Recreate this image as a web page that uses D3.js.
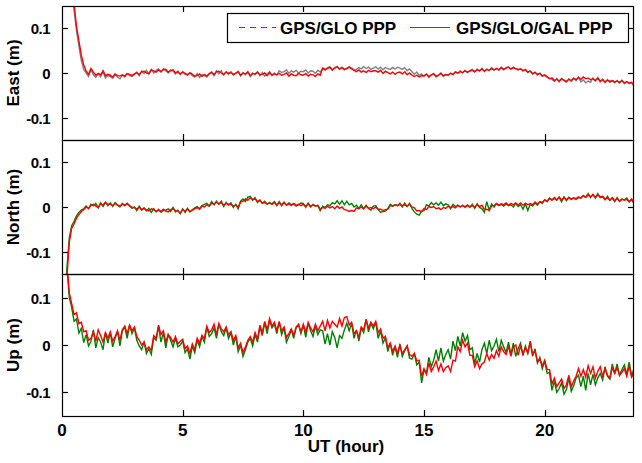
<!DOCTYPE html>
<html><head><meta charset="utf-8">
<script src="https://cdn.jsdelivr.net/npm/d3@7"></script>
<style>
body{margin:0;background:#fff}
svg{display:block}
text{font-family:"Liberation Sans",Arial,Helvetica,sans-serif;font-weight:bold;fill:#000}
</style></head><body>
<svg id="chart" width="642" height="463"></svg>
<script>
// ---- data (values in millimetres, one sample every 0.1 hour from 0 h) ----
const timeStep = 0.1;            // hours between samples
const xTicks = [0, 5, 10, 15, 20];
const xTickLabels = ["0", "5", "10", "15", "20"];
const yTicks = [-0.1, 0, 0.1];
const yTickLabels = ["-0.1", "0", "0.1"];
const panelTitles = ["East (m)", "North (m)", "Up (m)"];
const seriesNames = ["GPS/GLO PPP", "GPS/GLO/GAL PPP"];
const xTitle = "UT (hour)";

const eastGlo = [
390,330,280,230,180,140,95,60,28,8,
0,-8,7,-4,-10,-2,-9,3,-11,-6,
-8,-12,-4,-9,-13,-5,-9,-2,-6,-8,
-4,2,-6,4,-1,6,-3,8,0,6,
9,2,8,5,0,7,5,-2,4,-4,
3,-3,-5,0,-6,-9,-1,-10,-4,-6,
-9,-1,3,-6,5,-2,5,-5,3,-3,
3,-5,0,4,-7,1,-4,3,-8,0,
-4,3,-6,1,-7,-2,3,-6,0,-5,
5,1,3,7,-1,5,2,6,0,4,
3,7,0,5,4,-1,6,2,10,6,
12,14,6,12,15,8,13,7,11,14,
11,7,8,12,9,14,10,13,8,11,
14,9,13,7,12,10,8,12,9,13,
11,8,12,5,9,3,-3,2,-6,-2,
-8,-2,-10,-5,-1,-9,-6,0,-8,-3,
-6,0,-4,3,-1,5,0,6,1,6,
8,2,9,4,11,3,9,5,12,6,
11,6,13,7,12,14,8,13,9,7,
10,4,8,1,5,-3,2,-5,0,-8,
-4,-10,-12,-14,-19,-12,-20,-12,-18,-21,
-13,-19,-11,-17,-9,-20,-15,-22,-18,-21,
-11,-18,-10,-20,-14,-22,-15,-21,-18,-22,
-17,-23,-16,-24,-20,-24,-22,-29];

const eastGal = [
400,340,290,240,190,155,105,72,40,18,
4,-3,10,2,-5,-1,-4,5,-6,-3,
-5,-9,-2,-6,-7,-4,-7,-1,-3,-6,
-2,1,-4,3,4,0,-1,7,5,2,
7,3,9,8,2,5,7,0,3,-2,
2,-1,-4,1,-3,-7,-6,-2,-8,-3,
-7,-2,1,-4,3,4,0,-3,2,-1,
1,-3,-1,3,-5,0,-2,2,-6,-1,
-2,2,-4,-3,0,-6,1,-5,-2,-4,
-1,-5,-3,0,-7,-2,-5,-6,-1,-4,
-5,-1,-7,-3,-4,-8,-2,-5,11,8,
10,13,7,11,14,9,12,8,10,13,
9,6,3,7,2,5,1,6,3,5,
5,2,6,-1,4,1,-2,2,-3,1,
2,-2,3,-4,0,-5,-8,-5,-9,-6,
-6,-3,-8,-4,-2,-7,-5,-1,-6,-4,
-4,-1,-3,2,0,3,1,5,2,4,
6,3,7,5,9,4,8,6,10,7,
10,7,12,8,11,13,9,12,10,8,
9,6,7,2,4,-1,1,-3,-1,-6,
-5,-8,-13,-11,-17,-14,-18,-13,-16,-19,
-14,-17,-12,-15,-10,-14,-9,-13,-11,-15,
-13,-17,-12,-18,-15,-20,-16,-19,-17,-20,
-18,-21,-17,-22,-19,-23,-21,-27];

const northGlo = [
-400,-280,-140,-70,-42,-32,-20,-12,-7,-4,
2,-4,6,3,8,-2,9,1,10,3,
9,1,10,5,0,8,3,9,2,-3,
0,-8,2,-7,-2,-9,-3,-12,-4,-11,
-5,-12,-8,-7,-4,-10,-1,-11,-7,-15,
-4,-12,-3,-11,-6,-2,1,-4,3,6,
8,2,12,5,13,6,13,1,10,4,
9,-1,6,-4,13,18,12,22,24,15,
21,10,16,8,13,6,10,7,12,3,
12,3,11,4,9,5,7,2,5,9,
8,-1,9,1,6,2,4,-8,2,-1,
5,3,10,7,14,6,14,5,13,5,
8,0,4,-3,5,-4,4,-3,-7,2,
3,-6,-12,-10,-9,-4,6,2,5,3,
8,0,9,1,8,-3,-11,-16,-18,-9,
-8,5,2,10,5,9,4,11,3,7,
5,-4,6,1,4,0,3,1,4,-1,
6,-3,7,-1,-4,-12,12,-7,7,0,
7,3,6,2,7,3,5,0,8,1,
5,-5,7,-8,6,2,9,4,12,8,
16,12,20,16,19,15,22,12,23,14,
22,18,20,17,21,20,25,22,30,21,
28,20,30,21,23,16,24,15,20,12,
21,13,17,16,20,12,16,8];

const northGal = [
-400,-300,-160,-80,-48,-38,-25,-17,-10,-6,
0,-3,4,6,2,-1,7,4,11,5,
7,3,8,4,2,6,4,7,3,-1,
-1,-5,0,-6,-3,-7,-9,-4,-6,-10,
-7,-10,-5,-9,-11,-6,-4,-8,-9,-14,
-6,-9,-5,-10,-7,-4,-1,-5,2,0,
5,2,9,6,11,7,10,4,8,6,
6,2,4,0,11,13,18,15,21,17,
18,13,14,9,10,7,9,6,10,5,
9,5,10,4,7,3,8,4,6,3,
6,1,7,0,5,2,3,-5,-1,-3,
2,-2,1,-4,2,-3,0,-6,-7,-10,
-8,-10,-2,-4,0,-4,2,-3,-1,-4,
0,-5,-5,-8,-6,-5,3,2,5,3,
6,3,5,2,6,0,-2,-9,-8,-11,
-3,-6,1,-1,1,-4,-2,-6,-1,-3,
2,-1,1,-2,4,0,4,-1,4,1,
3,0,5,1,4,-6,-5,-8,3,3,
8,4,7,5,9,4,8,5,9,4,
9,4,8,5,8,5,11,6,12,10,
16,13,19,15,21,16,22,15,21,16,
21,17,20,19,23,20,26,21,27,23,
28,22,27,23,24,18,20,15,21,14,
19,13,18,15,17,12,18,10];

const upGlo = [
500,310,170,100,80,50,55,25,35,5,
22,-2,8,32,-6,16,6,-10,26,4,
26,-4,14,28,-2,30,38,14,42,24,
36,10,-2,-10,6,-18,-8,-20,16,10,
40,6,26,-6,22,10,-4,14,-4,0,
8,-16,-8,-30,-2,-16,10,-4,18,6,
38,18,24,36,14,44,28,20,36,14,
26,0,18,-14,0,-24,-10,6,14,-2,
22,6,38,20,48,24,52,36,44,24,
48,22,36,6,18,32,14,36,42,24,
42,16,46,30,18,40,22,32,30,2,
24,0,28,16,-6,20,14,32,46,30,
46,14,32,8,36,26,54,28,46,34,
48,14,30,4,16,-14,4,-22,-4,-26,
2,-24,-12,-2,-28,-30,-18,-42,-36,-80,
-52,-60,-26,-46,-32,-10,-34,-6,-34,-20,
-10,-30,8,-12,18,-2,26,8,20,-10,
-6,-40,-18,-36,-10,4,-18,10,-12,-2,
12,-14,10,-4,-16,6,-20,4,-24,-8,
4,-22,-2,-18,6,-24,-8,-38,-26,-50,
-34,-60,-58,-96,-76,-100,-92,-80,-104,-94,
-70,-98,-86,-70,-64,-88,-66,-96,-60,-84,
-62,-84,-70,-60,-74,-46,-66,-72,-40,-60,
-40,-64,-52,-42,-62,-36,-66,-50];

const upGal = [
500,320,180,110,88,64,68,45,48,28,
30,10,14,28,8,32,20,6,26,14,
28,8,18,30,10,32,40,24,42,30,
38,18,10,0,6,-10,-4,-12,20,14,
42,22,30,6,22,16,6,18,2,8,
12,-8,-2,-18,2,-10,14,4,20,14,
40,26,32,44,22,46,34,28,38,22,
28,10,20,-6,4,-16,-4,10,18,6,
26,12,42,26,50,32,56,40,48,30,
50,30,38,16,24,34,20,38,44,28,
44,26,48,36,28,44,30,40,50,30,
52,36,50,44,38,56,40,58,60,42,
48,24,30,16,38,32,54,36,48,40,
50,26,34,14,18,-6,4,-14,-2,-18,
0,-18,-10,-2,-20,-24,-18,-34,-32,-66,
-50,-62,-38,-56,-46,-34,-54,-40,-56,-48,
-44,-56,-32,-34,-4,-14,10,-4,4,-22,
-22,-46,-34,-50,-40,-36,-18,-32,-20,-28,
-12,-24,-4,-14,-20,-2,-24,-4,0,-22,
-2,-20,-6,-16,8,-20,-12,-36,-30,-44,
-32,-52,-52,-82,-70,-88,-80,-72,-92,-84,
-64,-88,-76,-66,-50,-66,-52,-68,-44,-60,
-46,-70,-56,-46,-66,-50,-64,-70,-48,-60,
-48,-64,-58,-50,-66,-44,-68,-60];

const gloColors = ["#808080", "#008000", "#008000"];
const galColor = "#ff0000";

// ---- layout ----
const svg = d3.select("#chart");
const left = 62, right = 634;
const panels = [
  {top: 6, bottom: 140, glo: eastGlo, gal: eastGal, title: panelTitles[0], gloColor: gloColors[0]},
  {top: 140, bottom: 274, glo: northGlo, gal: northGal, title: panelTitles[1], gloColor: gloColors[1]},
  {top: 274, bottom: 416, glo: upGlo, gal: upGal, title: panelTitles[2], gloColor: gloColors[2]}
];
const x = d3.scaleLinear().domain([0, 23.7]).range([left, right]);

panels.forEach((p, k) => {
  const y = d3.scaleLinear().domain([-0.15, 0.15]).range([p.bottom, p.top]);
  const clipId = "clip" + k;
  svg.append("clipPath").attr("id", clipId).append("rect")
    .attr("x", left).attr("y", p.top).attr("width", right - left).attr("height", p.bottom - p.top);
  const line = d3.line().x((d, i) => x(i * timeStep)).y(d => y(d / 1000));
  const g = svg.append("g").attr("clip-path", `url(#${clipId})`);
  g.append("path").datum(p.glo).attr("d", line).attr("fill", "none")
    .attr("stroke", p.gloColor).attr("stroke-width", 1.4).attr("stroke-linejoin", "miter");
  g.append("path").datum(p.gal).attr("d", line).attr("fill", "none")
    .attr("stroke", galColor).attr("stroke-width", 1.4).attr("stroke-linejoin", "miter");

  // frame
  svg.append("rect").attr("x", left + 0.5).attr("y", p.top + 0.5)
    .attr("width", right - left - 1).attr("height", p.bottom - p.top)
    .attr("fill", "none").attr("stroke", "#000").attr("stroke-width", 1.2);

  // ticks
  const tk = svg.append("g").attr("stroke", "#000").attr("stroke-width", 1.2);
  xTicks.slice(1).forEach(t => {
    const xx = Math.round(x(t)) + 0.5;
    tk.append("line").attr("x1", xx).attr("x2", xx).attr("y1", p.top).attr("y2", p.top + 6);
    tk.append("line").attr("x1", xx).attr("x2", xx).attr("y1", p.bottom - 6).attr("y2", p.bottom);
  });
  yTicks.forEach((t, j) => {
    const yy = Math.round(y(t)) + 0.5;
    tk.append("line").attr("x1", left).attr("x2", left + 6).attr("y1", yy).attr("y2", yy);
    tk.append("line").attr("x1", right - 6).attr("x2", right).attr("y1", yy).attr("y2", yy);
    svg.append("text").attr("x", 50).attr("y", yy).attr("dy", "0.36em")
      .attr("text-anchor", "end").attr("font-size", 15).attr("letter-spacing", -0.5)
      .text(yTickLabels[j]);
  });

  // panel title
  svg.append("text")
    .attr("transform", `translate(19,${(p.top + p.bottom) / 2}) rotate(-90)`)
    .attr("text-anchor", "middle").attr("font-size", 17).text(p.title);

  if (k === 2) {
    xTicks.forEach((t, j) => {
      svg.append("text").attr("x", x(t)).attr("y", 436)
        .attr("text-anchor", "middle").attr("font-size", 17).text(xTickLabels[j]);
    });
    svg.append("text").attr("x", 346).attr("y", 452)
      .attr("text-anchor", "middle").attr("font-size", 17).text(xTitle);
  }
});

// ---- legend ----
const lg = svg.append("g");
lg.append("rect").attr("x", 227.5).attr("y", 13.5).attr("width", 401).attr("height", 29)
  .attr("fill", "#fff").attr("stroke", "#000").attr("stroke-width", 1.2);
lg.append("line").attr("x1", 239).attr("x2", 276).attr("y1", 27.5).attr("y2", 27.5)
  .attr("stroke", gloColors[1]).attr("stroke-width", 1).attr("stroke-dasharray", "6,5");
lg.append("text").attr("x", 280).attr("y", 34).attr("font-size", 17).text(seriesNames[0]);
lg.append("line").attr("x1", 410).attr("x2", 450).attr("y1", 27.5).attr("y2", 27.5)
  .attr("stroke", galColor).attr("stroke-width", 1);
lg.append("text").attr("x", 456).attr("y", 34).attr("font-size", 17).text(seriesNames[1]);
</script>
</body></html>
